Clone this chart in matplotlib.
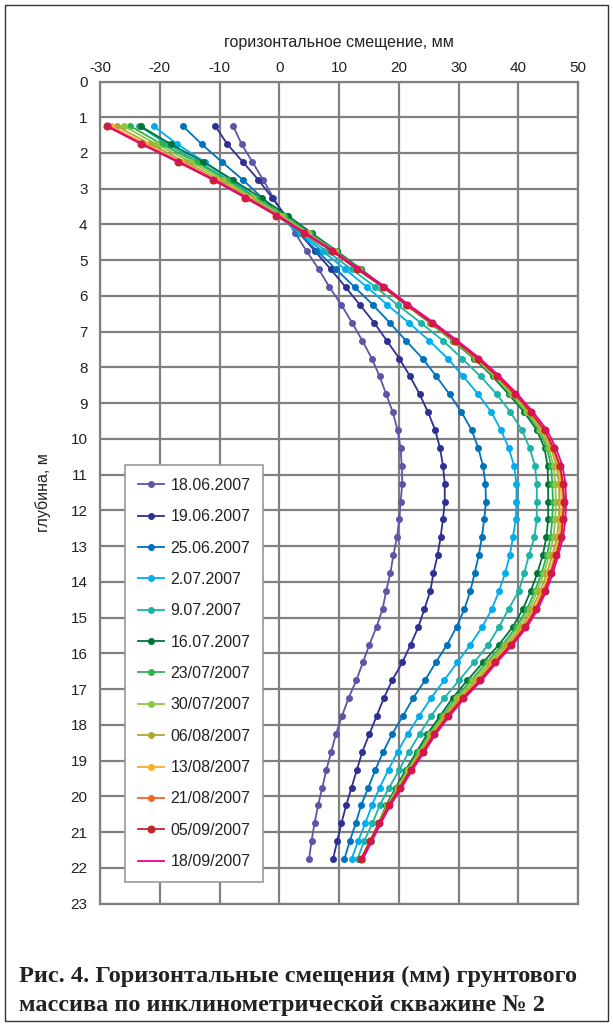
import matplotlib
matplotlib.use("Agg")
import matplotlib.pyplot as plt
from matplotlib.patches import Rectangle

plt.rcParams["font.family"] = ["Liberation Sans", "DejaVu Sans"]
plt.rcParams["axes.unicode_minus"] = False

depth = [1.25, 1.75, 2.25, 2.75, 3.25, 3.75, 4.25, 4.75, 5.25, 5.75,
         6.25, 6.75, 7.25, 7.75, 8.25, 8.75, 9.25, 9.75, 10.25, 10.75,
         11.25, 11.75, 12.25, 12.75, 13.25, 13.75, 14.25, 14.75, 15.25, 15.75,
         16.25, 16.75, 17.25, 17.75, 18.25, 18.75, 19.25, 19.75, 20.25, 20.75,
         21.25, 21.75]

d_18_06 = [-7.7, -6.3, -4.5, -2.7, -1.0, 0.8, 2.7, 4.6, 6.6, 8.4,
           10.4, 12.2, 13.9, 15.5, 16.8, 17.9, 19.0, 19.8, 20.3, 20.5,
           20.6, 20.3, 20.1, 19.7, 19.1, 18.6, 17.9, 17.3, 16.3, 15.1,
           14.0, 12.9, 11.6, 10.5, 9.5, 8.7, 7.9, 7.2, 6.5, 5.9,
           5.4, 5.0]
d_19_06 = [-10.7, -8.7, -6.1, -3.5, -1.2, 1.0, 3.4, 6.0, 8.6, 11.1,
           13.5, 15.9, 18.0, 20.1, 21.9, 23.5, 24.9, 26.1, 26.9, 27.4,
           27.7, 27.7, 27.4, 27.0, 26.5, 25.8, 25.3, 24.3, 23.3, 22.0,
           20.6, 18.9, 17.5, 16.3, 15.1, 13.9, 13.0, 12.1, 11.2, 10.4,
           9.7, 9.0]
d_25_06 = [-16.1, -13.0, -9.6, -6.1, -2.9, 0.2, 3.3, 6.4, 9.5, 12.6,
           15.7, 18.5, 21.2, 24.0, 26.3, 28.5, 30.5, 32.2, 33.3, 34.1,
           34.5, 34.6, 34.3, 33.9, 33.4, 32.7, 32.0, 31.0, 29.7, 28.1,
           26.2, 24.4, 22.4, 20.7, 18.9, 17.4, 16.1, 14.9, 13.7, 12.8,
           11.8, 10.9]
d_02_07 = [-21.0, -17.1, -12.5, -8.0, -4.0, -0.3, 3.4, 7.3, 11.0, 14.7,
           18.1, 21.7, 25.1, 28.2, 30.8, 33.3, 35.5, 37.1, 38.4, 39.3,
           39.7, 39.7, 39.6, 39.1, 38.6, 37.8, 36.8, 35.6, 34.0, 32.0,
           29.8, 27.6, 25.4, 23.4, 21.5, 19.8, 18.3, 16.8, 15.5, 14.4,
           13.2, 12.1]
d_09_07 = [-23.4, -18.8, -13.5, -8.5, -4.2, -0.2, 3.8, 8.0, 12.1, 16.1,
           19.8, 23.7, 27.4, 30.6, 33.7, 36.4, 38.7, 40.6, 41.9, 42.8,
           43.1, 43.1, 43.1, 42.7, 41.8, 41.0, 40.1, 38.4, 36.8, 35.0,
           32.6, 30.1, 27.6, 25.4, 23.5, 21.7, 20.1, 18.4, 16.8, 15.6,
           14.2, 13.1]
d_16_07 = [-23.2, -18.2, -12.7, -7.8, -3.1, 1.4, 5.5, 9.7, 13.7, 17.5,
           21.2, 25.2, 29.0, 32.6, 35.7, 38.4, 41.0, 43.1, 44.4, 44.9,
           45.0, 45.0, 45.0, 44.7, 44.1, 43.2, 42.1, 40.8, 39.1, 36.8,
           34.1, 31.5, 29.0, 26.9, 24.8, 23.0, 21.2, 19.5, 17.9, 16.6,
           15.3, 13.9]
d_23_07 = [-24.9, -19.7, -14.0, -8.8, -3.9, 0.8, 5.1, 9.5, 13.5, 17.5,
           21.2, 25.3, 29.1, 32.8, 35.9, 38.7, 41.3, 43.5, 44.8, 45.5,
           45.7, 45.8, 45.7, 45.4, 44.8, 43.9, 42.8, 41.5, 39.7, 37.4,
           34.7, 32.1, 29.5, 27.3, 25.1, 23.3, 21.4, 19.7, 18.0, 16.6,
           15.3, 13.9]
d_30_07 = [-26.0, -20.6, -14.8, -9.4, -4.4, 0.4, 4.8, 9.3, 13.3, 17.4,
           21.2, 25.3, 29.2, 32.9, 36.1, 38.9, 41.5, 43.7, 45.1, 45.9,
           46.2, 46.3, 46.2, 45.9, 45.2, 44.3, 43.2, 41.9, 40.1, 37.8,
           35.1, 32.5, 29.8, 27.5, 25.3, 23.5, 21.6, 19.8, 18.1, 16.6,
           15.2, 13.8]
d_06_08 = [-27.2, -21.6, -15.7, -10.1, -4.9, 0.0, 4.6, 9.1, 13.2, 17.4,
           21.3, 25.4, 29.3, 33.0, 36.3, 39.2, 41.8, 44.0, 45.5, 46.4,
           46.8, 46.9, 46.8, 46.5, 45.7, 44.8, 43.7, 42.3, 40.6, 38.2,
           35.5, 33.0, 30.2, 27.8, 25.6, 23.7, 21.8, 20.0, 18.2, 16.7,
           15.2, 13.8]
d_13_08 = [-28.1, -22.4, -16.4, -10.6, -5.3, -0.2, 4.4, 9.0, 13.1, 17.4,
           21.3, 25.5, 29.4, 33.1, 36.4, 39.4, 42.0, 44.2, 45.7, 46.7,
           47.1, 47.3, 47.1, 46.8, 46.1, 45.2, 44.1, 42.7, 40.9, 38.5,
           35.8, 33.3, 30.5, 28.0, 25.8, 23.9, 21.9, 20.1, 18.3, 16.7,
           15.2, 13.8]
d_21_08 = [-28.6, -22.9, -16.8, -10.9, -5.6, -0.4, 4.3, 8.9, 13.0, 17.4,
           21.3, 25.5, 29.4, 33.2, 36.5, 39.5, 42.1, 44.3, 45.8, 46.9,
           47.4, 47.6, 47.4, 47.1, 46.3, 45.4, 44.3, 42.9, 41.1, 38.7,
           36.0, 33.5, 30.6, 28.1, 25.9, 24.0, 22.0, 20.2, 18.3, 16.7,
           15.2, 13.7]
d_05_09 = [-28.9, -23.1, -17.0, -11.1, -5.7, -0.5, 4.2, 8.9, 13.0, 17.4,
           21.3, 25.5, 29.4, 33.2, 36.5, 39.5, 42.1, 44.4, 45.9, 47.0,
           47.5, 47.7, 47.5, 47.2, 46.4, 45.5, 44.4, 43.0, 41.2, 38.8,
           36.1, 33.6, 30.7, 28.2, 25.9, 24.0, 22.0, 20.2, 18.3, 16.7,
           15.2, 13.7]
d_18_09 = [-28.7, -22.9, -16.7, -10.8, -5.4, -0.2, 4.5, 9.2, 13.4, 17.8,
           21.7, 25.9, 29.8, 33.6, 36.9, 39.9, 42.5, 44.8, 46.3, 47.4,
           47.9, 48.0, 47.9, 47.5, 46.7, 45.8, 44.7, 43.3, 41.5, 39.1,
           36.4, 33.9, 31.0, 28.5, 26.2, 24.3, 22.3, 20.5, 18.6, 17.0,
           15.5, 14.0]

labels = ["18.06.2007", "19.06.2007", "25.06.2007", "2.07.2007", "9.07.2007",
          "16.07.2007", "23/07/2007", "30/07/2007", "06/08/2007", "13/08/2007",
          "21/08/2007", "05/09/2007", "18/09/2007"]
series = [d_18_06, d_19_06, d_25_06, d_02_07, d_09_07, d_16_07, d_23_07,
          d_30_07, d_06_08, d_13_08, d_21_08, d_05_09, d_18_09]

x_ticks = [-30, -20, -10, 0, 10, 20, 30, 40, 50]
y_ticks = list(range(0, 24))

colors = ["#5b57a6", "#2e3192", "#0072bc", "#00aeef", "#1db3a8", "#00743a",
          "#2eb24f", "#8dc63f", "#aea63a", "#f9ad2a", "#f26522", "#c5262d",
          "#ec008c"]
markers = ["o"] * 12 + [None]
msizes = [4.0] * 11 + [4.8, 0]

for s in series:
    assert len(s) == len(depth), len(s)

fig = plt.figure(figsize=(6.13, 10.25), dpi=100)
fig.patches.append(Rectangle((0.008, 0.004), 0.984, 0.991, transform=fig.transFigure,
                             fill=False, edgecolor="#333333", linewidth=1.0))

ax = fig.add_axes([100 / 613, 1 - 903.7 / 1025, 478 / 613, (903.7 - 81.5) / 1025])
grid_c = "#808080"
for i, (s, lab, c, m, ms) in enumerate(zip(series, labels, colors, markers, msizes)):
    ax.plot(s, depth, color=c, linewidth=1.3, marker=m, markersize=ms,
            label=lab, zorder=3 + i)

ax.set_xlim(-30, 50)
ax.set_ylim(23, 0)
ax.set_xticks(x_ticks)
ax.set_yticks(y_ticks)
ax.xaxis.tick_top()
ax.xaxis.set_label_position("top")
ax.grid(True, color=grid_c, linewidth=1.6, zorder=1)
ax.set_axisbelow(True)
for sp in ax.spines.values():
    sp.set_color(grid_c)
    sp.set_linewidth(1.6)
ax.tick_params(axis="both", length=0, labelsize=11, colors="#222222")
ax.tick_params(axis="x", pad=5)
ax.tick_params(axis="y", pad=9)
ax.set_xlabel("горизонтальное смещение, мм", fontsize=11.5, labelpad=10, color="#222222")
ax.set_ylabel("глубина, м", fontsize=11.5, labelpad=14, color="#222222")

leg = fig.legend(loc="upper left", bbox_to_anchor=(125 / 613, 1 - 465 / 1025),
                 bbox_transform=fig.transFigure, fontsize=11.5, frameon=True,
                 fancybox=False, edgecolor="#999999", framealpha=1.0,
                 labelspacing=1.025, borderpad=0.8, handlelength=1.65,
                 handletextpad=0.4, borderaxespad=0)
leg.get_frame().set_linewidth(1.2)
for t in leg.get_texts():
    t.set_color("#222222")

cap_font = dict(family="Liberation Serif", weight="bold", fontsize=17.5, color="#222222")
fig.text(19 / 613, 1 - 976 / 1025, "Рис. 4. Горизонтальные смещения (мм) грунтового",
         ha="left", va="center", **cap_font)
fig.text(19 / 613, 1 - 1005 / 1025, "массива по инклинометрической скважине № 2",
         ha="left", va="center", **cap_font)

fig.savefig("out.png", dpi=100)
